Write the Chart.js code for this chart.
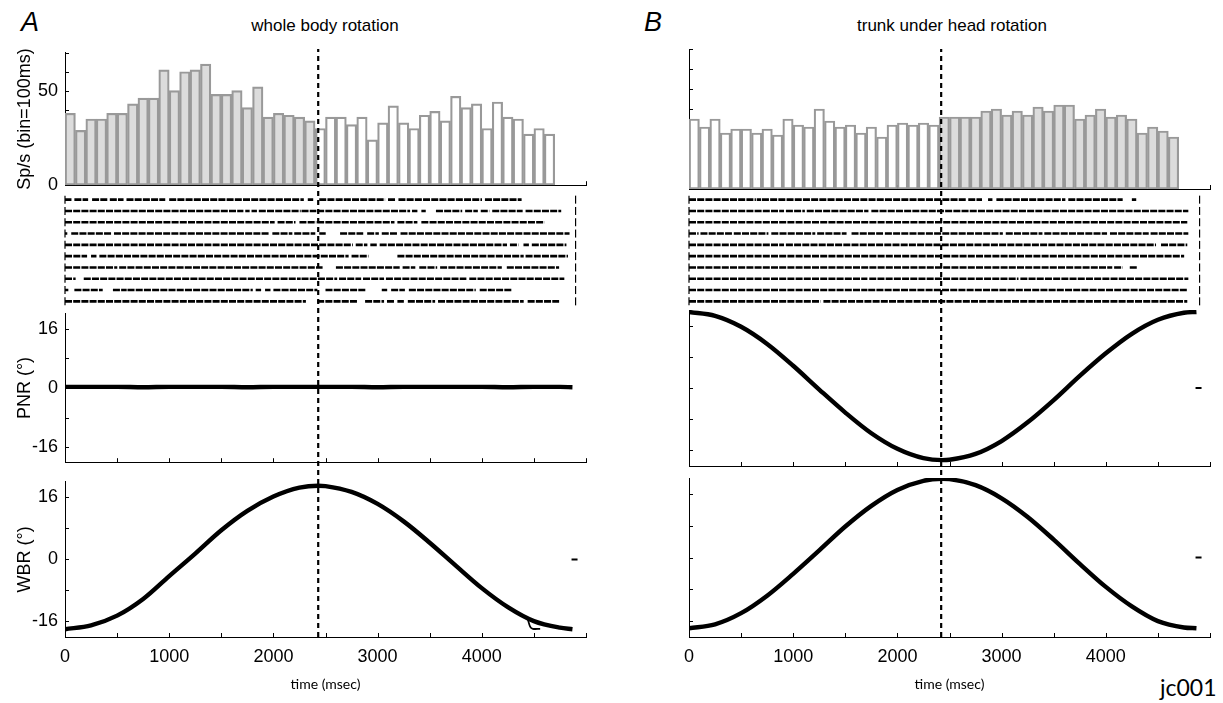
<!DOCTYPE html>
<html><head><meta charset="utf-8">
<script src="https://cdn.jsdelivr.net/npm/chart.js@4/dist/chart.umd.min.js"></script>
<style>
html,body{margin:0;padding:0;background:#fff}
body{width:1223px;height:703px;position:relative;overflow:hidden;font-family:'Liberation Sans',Arial,sans-serif}
.box{position:absolute}
.txt{position:absolute;white-space:nowrap;color:#000;line-height:1}
</style></head><body>
<div class="txt" style="left:21px;top:9px;font-size:27px;font-style:italic">A</div>
<div class="txt" style="left:644px;top:9px;font-size:27px;font-style:italic">B</div>
<div class="txt" style="left:325px;top:17px;font-size:17px;font-family:'Liberation Sans Narrow','Liberation Sans',sans-serif;transform:translateX(-50%)">whole body rotation</div>
<div class="txt" style="left:952px;top:17px;font-size:17px;font-family:'Liberation Sans Narrow','Liberation Sans',sans-serif;transform:translateX(-50%)">trunk under head rotation</div>
<div class="txt" style="left:1160px;top:676px;font-size:23px;font-family:Lato,'Open Sans',sans-serif">jc001</div>
<script>
// ---------------- data ----------------
const timeMin = 0, timeMax = 5000, timeStep = 500;
const xTickLabels = [0, 1000, 2000, 3000, 4000];
const binStartMs = [0,100,200,300,400,500,600,700,800,900,1000,1100,1200,1300,1400,1500,1600,1700,1800,1900,
  2000,2100,2200,2300,2400,2500,2600,2700,2800,2900,3000,3100,3200,3300,3400,3500,3600,3700,3800,3900,
  4000,4100,4200,4300,4400,4500,4600];
const binWidthMs = 100;
const rateA = [38,29,35,35,38,38,43,46,46,61,50,60,61,64,48,48,50,41,52,36,38,37,36,34,30,
  36,36,32,36,24,33,42,33,30,37,39,34,47,41,43,30,44,36,35,27,30,27];
const rateB = [35,31,35,28,30,30,28,30,27,35,32,31,40,34,31,32,28,31,26,32,33,32,33,32,36,
  36,36,36,39,40,37,39,37,41,39,42,42,35,37,40,36,37,35,28,31,29,26];
const rateTicks = [0,10,20,30,40,50,60,70];
const rateTickLabelsA = [0,50];
const angleTicks = [-16,-8,0,8,16];
const angleTickLabels = [-16,0,16];
const peakTimeA = 2430, peakTimeB = 2420;
const trialEndA = 4900, trialEndB = 4900;
const meanMarkT = 4890;
const curveT = [0,250,500,750,1000,1250,1500,1750,2000,2250,2430,2500,2750,3000,3250,3500,3750,4000,4250,4500,4750,4870];
const pnrA = [0.3,0.3,0.3,0.2,0.3,0.3,0.3,0.2,0.3,0.3,0.3,0.3,0.3,0.2,0.3,0.3,0.3,0.3,0.2,0.3,0.3,0.2];
const wbrA = [-18.0,-17.0,-14.5,-10.2,-4.3,1.5,7.5,12.5,16.2,18.5,19.0,18.9,17.4,14.3,9.8,4.3,-1.6,-7.4,-12.3,-15.9,-17.6,-18.0];
const pnrB = [19.5,18.5,15.7,11.3,5.7,-0.4,-6.3,-11.6,-15.6,-18.0,-18.5,-18.4,-16.9,-13.6,-8.8,-3.1,3.1,8.9,13.9,17.5,19.3,19.5];
const wbrB = [-17.8,-16.8,-14.0,-9.6,-4.1,1.8,7.8,13.0,17.0,19.3,19.8,19.7,18.2,14.9,10.2,4.5,-1.6,-7.4,-12.3,-16.0,-17.6,-17.8];
const wbrAHookT = [4440,4465,4490,4560];
const wbrAHookV = [-15.3,-17.4,-17.9,-17.9];
// raster: spike runs [start, end] in ms for each of 10 trials
const rasterA = [
  [[0,50],[90,210],[260,400],[430,550],[590,950],[1000,2280],[2330,2370],[2440,3060],[3100,3160],[3200,3990],[4030,4370]],
  [[0,1700],[1730,1760],[1790,1830],[1860,2250],[2270,2400],[2420,3300],[3330,3370],[3420,3450],[3560,3800],[3840,3950],[3990,4060],[4100,4380],[4420,4750]],
  [[0,2000],[2040,2200],[2250,2400],[2420,3150],[3190,3370],[3420,4590]],
  [[0,10],[60,430],[470,1950],[1990,2170],[2200,2390],[2440,2490],[2640,2850],[2900,3000],[3040,3180],[3220,4830]],
  [[0,2750],[2790,2890],[2930,2980],[3020,4230],[4270,4340],[4400,4440],[4480,4800]],
  [[0,60],[80,200],[250,290],[330,2710],[2750,2900],[3190,4390],[4420,4815]],
  [[0,490],[520,2460],[2600,3200],[3240,3350],[3400,3560],[3600,4180],[4240,4730]],
  [[0,90],[180,2250],[2270,2600],[2630,2830],[2860,3050],[3080,3840],[3880,4780]],
  [[0,20],[90,350],[460,580],[600,1790],[1830,1870],[1920,1960],[2000,2410],[2500,2880],[3040,3080],[3130,3250],[3300,3930],[3980,4280]],
  [[0,2300],[2420,2800],[2880,3050],[3090,3150],[3190,3240],[3290,3540],[3580,4390],[4440,4730]]
];
const rasterB = [
  [[0,630],[650,680],[700,2650],[2680,2800],[2870,2900],[2950,3600],[3640,4150],[4250,4280]],
  [[0,900],[930,1100],[1130,1710],[1750,4780]],
  [[0,4770]],
  [[0,80],[110,400],[430,750],[790,1200],[1230,1500],[1560,1850],[1880,3000],[3040,3380],[3410,4000],[4040,4400],[4430,4780]],
  [[0,900],[930,4470],[4530,4770]],
  [[0,4740]],
  [[0,4050],[4080,4150],[4230,4290]],
  [[0,1700],[1730,3150],[3180,4780]],
  [[0,1700],[1720,4770]],
  [[0,1250],[1290,4770]]
];
const rowIds = [1,2,3,4,5,6,7,8,9,10];

// ---------------- helpers ----------------
const GREY = '#dcdcdc', EDGE = '#999999', FONT = "'Liberation Sans', Arial, sans-serif";
Chart.defaults.font.family = FONT;
Chart.defaults.color = '#000';

const inwardTicks = {
  id: 'inwardTicks',
  beforeDatasetsDraw(chart, args, opts) {
    const {ctx, chartArea} = chart;
    ctx.save(); ctx.strokeStyle = '#000'; ctx.lineWidth = 1;
    if (opts.y) {
      const s = chart.scales.y;
      s.ticks.forEach(t => { const p = Math.round(s.getPixelForValue(t.value)) + 0.5;
        ctx.beginPath(); ctx.moveTo(chartArea.left, p); ctx.lineTo(chartArea.left + opts.y, p); ctx.stroke(); });
    }
    if (opts.x) {
      const s = chart.scales.x;
      s.ticks.forEach(t => { const p = Math.round(s.getPixelForValue(t.value)) + 0.5;
        ctx.beginPath(); ctx.moveTo(p, chartArea.bottom); ctx.lineTo(p, chartArea.bottom - opts.x); ctx.stroke(); });
    }
    ctx.restore();
  }
};
Chart.register(inwardTicks);

const COL = {
  A: {colLeft: 0, colW: 611, left: 65, right: 586},
  B: {colLeft: 612, colW: 611, left: 689, right: 1210}
};
const ROWS = {
  hist: {top: 49, bottom: 189},
  raster: {top: 194, bottom: 307},
  pnr: {top: 310, bottom: 466},
  wbr: {top: 478, bottom: 637}
};
const XH = 60; // bottom axis box height
const TICK_FONT = {size: 18};
const TITLE_FONT = {size: 18};

function makeBox(col, row, xh) {
  const padTop = 14, padBottom = xh ? 0 : 14;
  const el = document.createElement('div');
  el.className = 'box';
  el.style.left = col.colLeft + 'px';
  el.style.top = (row.top - padTop) + 'px';
  el.style.width = col.colW + 'px';
  el.style.height = (row.bottom - row.top + padTop + xh + padBottom) + 'px';
  const cv = document.createElement('canvas');
  el.appendChild(cv);
  document.body.appendChild(el);
  return {cv, padding: {left: 0, top: padTop, bottom: padBottom, right: col.colLeft + col.colW - col.right}};
}

function xScale(col, opt) {
  return {
    type: 'linear', min: timeMin, max: timeMax, offset: false,
    display: opt.display !== false,
    ticks: {stepSize: timeStep, autoSkip: false, maxRotation: 0, minRotation: 0, padding: 9,
      display: !!opt.labels, font: TICK_FONT,
      callback: v => xTickLabels.includes(v) ? String(v) : ''},
    grid: {display: false, drawTicks: false},
    border: {display: opt.border !== false, color: '#000', width: 1},
    title: opt.labels ? {display: true, text: 'time (msec)', font: {size: 14, family: "Lato, 'Open Sans', sans-serif"}, padding: {top: 0, bottom: 4}} : {display: false},
    afterFit: s => { s.height = opt.xh || 0; }
  };
}
function yScale(col, opt) {
  return Object.assign({
    type: 'linear', display: opt.display !== false,
    ticks: {display: !!opt.labelSet, font: TICK_FONT, padding: 7, autoSkip: false,
      callback: v => (opt.labelSet && opt.labelSet.includes(v)) ? String(v) : ''},
    grid: {display: false, drawTicks: false},
    border: {display: opt.display !== false, color: '#000', width: 1},
    title: opt.title ? {display: true, text: opt.title, font: TITLE_FONT, padding: {top: 14, bottom: 0}} : {display: false},
    afterBuildTicks: opt.tickSet ? (s => { s.ticks = opt.tickSet.map(v => ({value: v})); }) : undefined,
    afterFit: s => { s.width = col.left - col.colLeft; }
  }, opt.extra || {});
}
function baseOpts(padding) {
  return {responsive: true, maintainAspectRatio: false, animation: false, events: [],
    layout: {padding}, plugins: {legend: {display: false}, tooltip: {enabled: false}}};
}

function histPanel(col, rates, peakT, greyBefore, labelSet, title) {
  const b = makeBox(col, ROWS.hist, 0);
  const pts = binStartMs.map((s, i) => ({x: s + binWidthMs / 2, y: rates[i]}));
  const cBefore = greyBefore ? GREY : '#ffffff', cAfter = greyBefore ? '#ffffff' : GREY;
  const fill = ctx => {
    const i = ctx.dataIndex; if (i === undefined) return cBefore;
    const s = binStartMs[i], e = s + binWidthMs;
    if (e <= peakT) return cBefore;
    if (s >= peakT) return cAfter;
    const xs = ctx.chart.scales.x; if (!xs) return cBefore;
    const p0 = xs.getPixelForValue(s), p1 = xs.getPixelForValue(e);
    const g = ctx.chart.ctx.createLinearGradient(p0, 0, p1, 0);
    const f = (peakT - s) / binWidthMs;
    g.addColorStop(0, cBefore); g.addColorStop(f, cBefore); g.addColorStop(f, cAfter); g.addColorStop(1, cAfter);
    return g;
  };
  const opts = baseOpts(b.padding);
  opts.plugins.inwardTicks = {y: 4, x: 4};
  opts.scales = {
    x: xScale(col, {labels: false}),
    y: yScale(col, {labelSet, title, extra: {min: 0, max: 70}, tickSet: rateTicks})
  };
  new Chart(b.cv, {type: 'bar', data: {datasets: [{data: pts, backgroundColor: fill, borderColor: EDGE,
    borderWidth: 2.2, borderSkipped: false, barPercentage: 1, categoryPercentage: 1}]}, options: opts});
}

function rasterPanel(col, rows, trialEnd) {
  const b = makeBox(col, ROWS.raster, 0);
  const ds = rows.map((segs, r) => {
    const d = [];
    segs.forEach(([s, e]) => { d.push({x: s, y: rowIds[r]}, {x: e + 12, y: rowIds[r]}, {x: e + 12, y: null}); });
    return {type: 'line', data: d, borderColor: '#000', borderWidth: 2.6, borderDash: [7, 1.2],
      pointRadius: 0, spanGaps: false, tension: 0};
  });
  const marks = [];
  rowIds.forEach(r => { marks.push({x: 0, y: r}, {x: trialEnd, y: r}); });
  ds.push({type: 'scatter', data: marks, pointStyle: 'line', rotation: 90, pointRadius: 4,
    borderColor: '#000', borderWidth: 1.2, backgroundColor: '#000', clip: false});
  const opts = baseOpts(b.padding);
  opts.scales = {
    x: xScale(col, {display: false}),
    y: yScale(col, {display: false, extra: {min: 0.5, max: 10.5, reverse: true}})
  };
  new Chart(b.cv, {type: 'line', data: {datasets: ds}, options: opts});
}

function curvePanel(col, row, vals, opt) {
  const xh = opt.bottom ? XH : 0;
  const b = makeBox(col, row, xh);
  const ds = [{data: curveT.map((t, i) => ({x: t, y: vals[i]})), borderColor: '#000', borderWidth: 4.4,
    pointRadius: 0, cubicInterpolationMode: 'monotone'}];
  if (opt.hook) ds.push({data: opt.hook.t.map((t, i) => ({x: t, y: opt.hook.v[i]})), borderColor: '#000',
    borderWidth: 1.8, pointRadius: 0, tension: 0.3});
  if (opt.mark) ds.push({type: 'scatter', data: [{x: meanMarkT, y: 0}], pointStyle: 'line', pointRadius: 3,
    borderColor: '#000', borderWidth: 2});
  const opts = baseOpts(b.padding);
  opts.plugins.inwardTicks = {y: 4, x: 4};
  opts.scales = {
    x: xScale(col, {labels: opt.bottom, xh}),
    y: yScale(col, {labelSet: opt.labelSet, title: opt.title, tickSet: angleTicks, extra: {min: -20, max: 20}})
  };
  new Chart(b.cv, {type: 'line', data: {datasets: ds}, options: opts});
}

function dashOverlay(col, peakT) {
  const el = document.createElement('div');
  el.className = 'box';
  el.style.left = col.colLeft + 'px'; el.style.top = '0px';
  el.style.width = col.colW + 'px'; el.style.height = '703px';
  el.style.pointerEvents = 'none';
  const cv = document.createElement('canvas'); el.appendChild(cv); document.body.appendChild(el);
  const opts = baseOpts({left: col.left - col.colLeft, right: col.colLeft + col.colW - col.right,
    top: ROWS.hist.top, bottom: 703 - ROWS.wbr.bottom});
  opts.scales = {x: {type: 'linear', min: timeMin, max: timeMax, display: false},
                 y: {type: 'linear', min: 0, max: 1, display: false}};
  new Chart(cv, {type: 'line', data: {datasets: [{data: [{x: peakT, y: 0}, {x: peakT, y: 1}],
    borderColor: '#000', borderWidth: 2.2, borderDash: [5, 4], pointRadius: 0}]}, options: opts});
}

// ---------------- build ----------------
histPanel(COL.A, rateA, peakTimeA, true, rateTickLabelsA, 'Sp/s (bin=100ms)');
histPanel(COL.B, rateB, peakTimeB, false, null, null);
rasterPanel(COL.A, rasterA, trialEndA);
rasterPanel(COL.B, rasterB, trialEndB);
curvePanel(COL.A, ROWS.pnr, pnrA, {labelSet: angleTickLabels, title: 'PNR (°)'});
curvePanel(COL.A, ROWS.wbr, wbrA, {labelSet: angleTickLabels, title: 'WBR (°)', bottom: true, hook: {t: wbrAHookT, v: wbrAHookV}, mark: true});
curvePanel(COL.B, ROWS.pnr, pnrB, {mark: true});
curvePanel(COL.B, ROWS.wbr, wbrB, {bottom: true, mark: true});
dashOverlay(COL.A, peakTimeA);
dashOverlay(COL.B, peakTimeB);
</script>
</body></html>
